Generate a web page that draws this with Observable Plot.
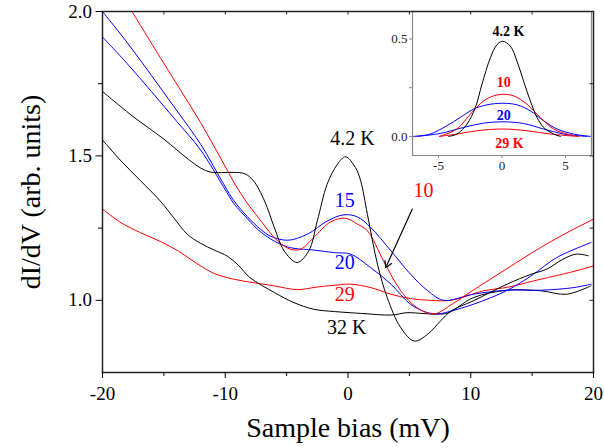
<!DOCTYPE html>
<html>
<head>
<meta charset="utf-8">
<script src="https://cdn.jsdelivr.net/npm/d3@7"></script>
<script src="https://cdn.jsdelivr.net/npm/@observablehq/plot@0.6"></script>
<style>
  html, body { margin: 0; padding: 0; background: white; }
  #wrap { position: relative; width: 604px; height: 448px; }
  #wrap svg { position: absolute; overflow: visible; }
</style>
</head>
<body>
<div id="wrap"></div>
<script>
// ---------- main panel data (x: sample bias mV, y: dI/dV) ----------
const xTicks = [-20, -10, 0, 10, 20];
const xMinor = [-15, -5, 5, 15];
const yTicks = [1.0, 1.5, 2.0];
const yMinor = [1.25, 1.75];

const curve42 = [[-20,1.723],[-17.5,1.636],[-15,1.558],[-13,1.488],[-12,1.458],[-11.2,1.444],[-10.3,1.442],[-9.3,1.443],[-8.4,1.438],[-7.7,1.414],[-6.8,1.344],[-6.0,1.252],[-5.2,1.171],[-4.15,1.131],[-3.2,1.171],[-2.5,1.275],[-1.7,1.402],[-0.86,1.471],[-0.2,1.497],[0.6,1.46],[1.03,1.414],[1.58,1.298],[2.4,1.125],[3.2,1.009],[4.3,0.905],[5.4,0.859],[6.5,0.883],[7.55,0.929],[8.4,0.963],[10.2,0.998],[12.96,1.056],[14.9,1.09],[16.2,1.108],[17.5,1.142],[18.6,1.16],[19.6,1.154]];
const curve32 = [[-20,1.555],[-18.5,1.483],[-16.9,1.414],[-15.3,1.344],[-14.2,1.286],[-13.1,1.229],[-12,1.197],[-10.9,1.174],[-9.8,1.152],[-8.9,1.12],[-8.0,1.079],[-6.0,1.027],[-4.4,0.992],[-2.8,0.969],[-1.1,0.961],[0.2,0.957],[1.3,0.954],[3.5,0.949],[4.8,0.957],[6.2,0.954],[7.3,0.952],[8.2,0.957],[10.2,1.009],[13,1.035],[15.7,1.033],[17.8,1.021],[19.8,1.05]];
const curve15 = [[-20,2.0],[-18,1.893],[-16,1.778],[-14,1.66],[-12,1.54],[-10.1,1.40],[-9.3,1.345],[-8.2,1.29],[-7.1,1.245],[-6.3,1.222],[-4.9,1.208],[-3.3,1.229],[-1.67,1.275],[-0.33,1.296],[0.76,1.289],[1.85,1.252],[3.5,1.171],[5.1,1.09],[6.5,1.033],[7.8,1.0],[10.2,1.021],[13,1.035],[15.7,1.035],[18.4,1.044],[19.8,1.056]];
const curve20 = [[-20,1.912],[-18,1.82],[-16,1.722],[-14,1.622],[-12,1.52],[-10.1,1.39],[-9.3,1.335],[-8.2,1.283],[-7.1,1.236],[-5.5,1.194],[-4.4,1.18],[-2.8,1.174],[-1.1,1.165],[0.2,1.16],[1.85,1.113],[3.5,1.056],[5.1,0.986],[6.5,0.957],[7.5,0.954],[8.4,0.963],[10.2,0.986],[13,1.035],[15.1,1.09],[17,1.148],[19.8,1.2]];
const curve10 = [[-17.6,2.0],[-15.3,1.841],[-13.6,1.725],[-12,1.615],[-10.35,1.49],[-8.7,1.367],[-7.1,1.275],[-5.75,1.206],[-4.7,1.177],[-3.85,1.177],[-2.8,1.217],[-1.4,1.272],[-0.2,1.284],[0.76,1.264],[1.6,1.24],[2.9,1.136],[4.3,1.033],[5.6,0.975],[7.0,0.953],[8.6,0.99],[10.2,1.035],[12.96,1.11],[15.7,1.183],[18.1,1.24],[20,1.281]];
const curve29 = [[-20,1.316],[-18.5,1.269],[-16.9,1.234],[-15.3,1.204],[-13.8,1.17],[-12.3,1.127],[-10.9,1.093],[-9.3,1.073],[-7.7,1.061],[-6.0,1.05],[-4.15,1.037],[-2.5,1.046],[-0.6,1.054],[0.2,1.056],[1.85,1.044],[3.5,1.021],[5.1,1.006],[6.7,1.0],[8.4,1.0],[11.06,1.033],[13,1.045],[15.1,1.067],[18.4,1.1],[20,1.119]];

const mainLabelText = ["4.2 K", "15", "10", "20", "29", "32 K"];
const mainLabelX    = [0.36, -0.27, 6.15, -0.27, -0.27, -0.1];
const mainLabelY    = [1.559, 1.344, 1.379, 1.131, 1.020, 0.904];
const mainLabelCol  = ["black", "blue", "red", "blue", "red", "black"];
const arrowFrom = [5.24, 1.316];
const arrowTo   = [3.07, 1.113];

// ---------- inset data (difference spectra) ----------
const insetXTicks = [-5, 0, 5];
const insetYTicks = [0.0, 0.5];
const inset42 = [[-4.21,0],[-3.55,0.012],[-2.76,0.063],[-2.1,0.148],[-1.58,0.267],[-0.92,0.403],[-0.39,0.471],[0.05,0.488],[0.66,0.463],[1.18,0.386],[1.7,0.284],[2.23,0.182],[2.76,0.097],[3.28,0.046],[4.07,0.012],[4.6,0]];
const inset10 = [[-4.93,0],[-3.55,0.038],[-2.5,0.114],[-1.45,0.182],[-0.66,0.208],[0.05,0.216],[0.92,0.208],[1.97,0.165],[3.02,0.097],[4.07,0.038],[5.13,0.012],[6.05,0]];
const inset15 = [[-6.98,0],[-5.66,0.012],[-4.34,0.055],[-3.29,0.097],[-2.24,0.14],[-1.18,0.162],[0.05,0.17],[1.18,0.162],[2.23,0.131],[3.28,0.08],[4.34,0.038],[5.65,0.012],[6.97,0]];
const inset20 = [[-6.7,0],[-4.87,0.015],[-3.03,0.046],[-1.45,0.068],[0.05,0.075],[1.7,0.066],[3.28,0.038],[4.86,0.012],[6.7,0]];
const inset29 = [[-4.93,0],[-3.55,0.012],[-1.97,0.029],[0.05,0.038],[1.97,0.029],[3.81,0.012],[5.92,0]];
const insetLabelText = ["4.2 K", "10", "20", "29 K"];
const insetLabelX    = [0.5, 0.13, 0.13, 0.58];
const insetLabelY    = [0.539, 0.274, 0.106, -0.037];
const insetLabelCol  = ["black", "red", "blue", "red"];

const font = "'Liberation Serif', 'Times New Roman', serif";
const fmt = d => d < 0 ? "-" + Math.abs(d) : String(d);

const line = (data, color) => Plot.line(data, {x: d => d[0], y: d => d[1], stroke: color, strokeWidth: 1, curve: "catmull-rom", clip: true});

const mainLabels = mainLabelText.map((t, i) => ({t, x: mainLabelX[i], y: mainLabelY[i], c: mainLabelCol[i]}));
const insetLabels = insetLabelText.map((t, i) => ({t, x: insetLabelX[i], y: insetLabelY[i], c: insetLabelCol[i]}));

const mL = 102, mR = 11, mT = 11, mB = 76, W = 604, H = 448;
const frameW = W - mL - mR, frameH = H - mT - mB;

// inset (drawn first, underneath)
const inset = Plot.plot({
  width: 224, height: 180,
  marginLeft: 32, marginRight: 13, marginTop: 11, marginBottom: 25,
  x: {domain: [-7.05, 7.05]},
  y: {domain: [-0.098, 0.641]},
  style: {fontFamily: font, background: "transparent", color: "#222"},
  marks: [
    Plot.frame({fill: "white", stroke: "none"}),
    Plot.ruleX([-7.05, 7.05], {stroke: "#888", strokeWidth: 1.2}),
    Plot.ruleY([-0.098], {stroke: "#888", strokeWidth: 1.2}),
    Plot.axisX({ticks: insetXTicks, tickSize: 3, tickPadding: 2, fontSize: 13, tickFormat: fmt, label: null, stroke: "#888"}),
    Plot.axisY({ticks: insetYTicks, tickSize: 3, tickPadding: 2, fontSize: 13, tickFormat: d => d.toFixed(1), label: null, stroke: "#888"}),
    Plot.axisY({ticks: [0.25], tickSize: 3, tickFormat: () => "", label: null, stroke: "#888"}),
    line(inset29, "red"),
    line(inset20, "blue"),
    line(inset15, "blue"),
    line(inset10, "red"),
    line(inset42, "black"),
    Plot.text(insetLabels, {x: "x", y: "y", text: "t", fill: "c", fontSize: 14, fontWeight: "bold"})
  ]
});
inset.style.left = "380px";
inset.style.top = "0px";

const main = Plot.plot({
  width: W, height: H,
  marginLeft: mL, marginRight: mR, marginTop: mT, marginBottom: mB,
  x: {domain: [-20, 20]},
  y: {domain: [0.75, 2.0]},
  style: {fontFamily: font, background: "transparent", color: "black"},
  marks: [
    line(curve29, "red"),
    line(curve32, "black"),
    line(curve20, "blue"),
    line(curve15, "blue"),
    line(curve10, "red"),
    line(curve42, "black"),
    Plot.frame({stroke: "#222", strokeWidth: 1.5}),
    Plot.axisX({ticks: xTicks, tickSize: 6, tickPadding: 8, fontSize: 19, tickFormat: fmt, label: null}),
    Plot.axisX({ticks: xMinor, tickSize: 4, tickFormat: () => "", label: null}),
    Plot.axisY({ticks: yTicks, tickSize: 6.5, tickPadding: 4, fontSize: 19, tickFormat: d => d.toFixed(1), label: null}),
    Plot.axisY({ticks: yMinor, tickSize: 4, tickFormat: () => "", label: null}),
    Plot.tickX(xTicks.concat(xMinor), {x: d => d, insetBottom: frameH - 3.5, stroke: "#222"}),
    Plot.tickY(yTicks.concat(yMinor), {y: d => d, insetLeft: frameW - 3.5, stroke: "#222"}),
    Plot.text(mainLabels, {x: "x", y: "y", text: "t", fill: "c", fontSize: 20}),
    Plot.arrow([{x1: arrowFrom[0], y1: arrowFrom[1], x2: arrowTo[0], y2: arrowTo[1]}], {x1: "x1", y1: "y1", x2: "x2", y2: "y2", stroke: "black", strokeWidth: 1.2, headLength: 9}),
    Plot.text(["Sample bias (mV)"], {text: d => d, frameAnchor: "bottom", textAnchor: "middle", lineAnchor: "middle", dy: 56, fontSize: 28}),
    Plot.text(["dI/dV (arb. units)"], {text: d => d, frameAnchor: "left", textAnchor: "middle", lineAnchor: "middle", dx: -71, rotate: -90, fontSize: 28})
  ]
});
main.style.left = "0px";
main.style.top = "0px";

const wrap = document.getElementById("wrap");
wrap.appendChild(inset);
wrap.appendChild(main);
</script>
</body>
</html>
